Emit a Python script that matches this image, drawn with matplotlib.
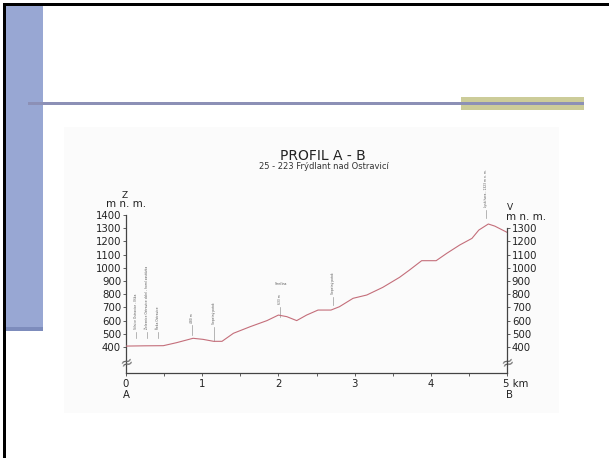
import matplotlib.pyplot as plt
from matplotlib.patches import Rectangle

plt.rcParams['font.family'] = ['DejaVu Sans']

# elevation profile (km, m n. m.)
dist_km = [0, 0.25, 0.49, 0.665, 0.88, 1.01, 1.15, 1.26, 1.41, 1.63, 1.85, 2.0, 2.11,
           2.24, 2.37, 2.52, 2.69, 2.80, 2.98, 3.16, 3.37, 3.59, 3.72, 3.88, 4.07,
           4.21, 4.38, 4.54, 4.63, 4.755, 4.84, 5.0]
elev = [407, 409, 410, 433, 466, 458, 443, 443, 504, 554, 600, 642, 630,
        600, 642, 680, 680, 705, 769, 794, 852, 928, 983, 1054, 1054,
        1110, 1173, 1223, 1286, 1332, 1316, 1269]

# point labels along the route: position, marker low/high elevation
mark_km = [0.13, 0.28, 0.42, 0.87, 1.16, 2.02, 2.72, 4.73]
mark_lo = [468, 468, 468, 490, 445, 627, 718, 1377]
mark_hi = [514, 514, 514, 565, 552, 703, 779, 1438]
mark_txt = ['Silnice Ostravice - Ilška',
            'Železnice Ostravice dolní - horní zastávka',
            'Řeka Ostravice', '480 m', 'Sepetný potok', '633 m',
            'Sepetný potok', 'Lysá hora - 1323 m n. m.']

left_ticks = [400, 500, 600, 700, 800, 900, 1000, 1100, 1200, 1300, 1400]
right_ticks = [400, 500, 600, 700, 800, 900, 1000, 1100, 1200, 1300]
x_ticks = [0, 1, 2, 3, 4, 5]

W, H = 609, 458
fig = plt.figure(figsize=(W / 100, H / 100), dpi=100)


def box(x0, y0, x1, y1, color, z=0):
    fig.add_artist(Rectangle((x0 / W, 1 - y1 / H), (x1 - x0) / W, (y1 - y0) / H,
                             transform=fig.transFigure, facecolor=color,
                             edgecolor='none', zorder=z))


# slide decoration
box(0, 0, W, 3, 'white')
box(3, 3, W, 6, 'black', 5)
box(3, 3, 6, H, 'black', 5)
box(6, 6, 43, 329, '#98a7d3', 1)
box(6, 327, 43, 331, '#7d8cbc', 1)
box(461, 97, 584, 110, '#cccc99', 1)
box(28, 102, 584, 105, '#8c90b6', 2)
box(64, 127, 559, 413, '#fbfbfb', 0)

ax = fig.add_axes([126 / W, (H - 373) / H, (507 - 126) / W, (373 - 205) / H])
ax.patch.set_alpha(0)
ax.plot(dist_km, elev, color='#c46e7a', lw=0.8, zorder=3)
ax.set_xlim(0, 5)
ax.set_ylim(203, 1476)

spine_col = '#444444'
txt_col = '#222222'
for s in ['top', 'right']:
    ax.spines[s].set_visible(False)
ax.spines['left'].set_bounds(203, 1400)
for s in ['left', 'bottom']:
    ax.spines[s].set_color(spine_col)
    ax.spines[s].set_linewidth(0.9)

ax.set_yticks(left_ticks)
ax.set_yticklabels([str(v) for v in left_ticks])
ax.tick_params(axis='y', direction='out', length=2.5, width=0.6, colors=spine_col,
               labelsize=7.3, labelcolor=txt_col, pad=1)
ax.set_xticks(x_ticks)
ax.set_xticklabels(['0', '1', '2', '3', '4', ''])
ax.set_xticks([0.5, 1.5, 2.5, 3.5, 4.5], minor=True)
ax.tick_params(axis='x', which='both', direction='out', length=2, width=0.6,
               colors=spine_col, labelsize=7.3, labelcolor=txt_col, pad=2)

ax2 = ax.twinx()
ax2.set_ylim(ax.get_ylim())
for s in ['top', 'left', 'bottom']:
    ax2.spines[s].set_visible(False)
ax2.spines['right'].set_bounds(203, 1300)
ax2.spines['right'].set_color(spine_col)
ax2.spines['right'].set_linewidth(0.9)
ax2.set_yticks(right_ticks)
ax2.set_yticklabels([str(v) for v in right_ticks])
ax2.tick_params(axis='y', direction='out', length=2.5, width=0.6, colors=spine_col,
                labelsize=7.3, labelcolor=txt_col, pad=1)

# axis break marks
for xb in [0, 5]:
    ax.text(xb, 286, '≈', fontsize=11, color='#666666', ha='center', va='center',
            rotation=20, zorder=4)

# labels under x axis
ax.annotate('5 km', xy=(5, 0), xycoords=('data', 'axes fraction'), xytext=(-2.6, -4),
            textcoords='offset points', ha='left', va='top', fontsize=7.3, color=txt_col)
ax.annotate('A', xy=(0, 0), xycoords=('data', 'axes fraction'), xytext=(0, -12.5),
            textcoords='offset points', ha='center', va='top', fontsize=7.3, color=txt_col)
ax.annotate('B', xy=(5, 0), xycoords=('data', 'axes fraction'), xytext=(2, -12.5),
            textcoords='offset points', ha='center', va='top', fontsize=7.3, color=txt_col)

# route markers
for xk, lo, hi, t in zip(mark_km, mark_lo, mark_hi, mark_txt):
    ax.plot([xk, xk], [lo, hi], color='#999999', lw=0.5, zorder=2)
    ax.text(xk, hi + 20, t, rotation=90, fontsize=2.2, color='#555555',
            ha='center', va='bottom', clip_on=False)
ax.text(2.03, 860, 'Smrčina', fontsize=2.2, color='#555555', ha='center', va='bottom')

# titles and axis captions
fig.text(323 / W, 1 - 156 / H, 'PROFIL A - B', ha='center', va='center',
         fontsize=10, color=txt_col)
fig.text(324 / W, 1 - 166 / H, '25 - 223 Frýdlant nad Ostravicí', ha='center',
         va='center', fontsize=6, color='#333333')
fig.text(125 / W, 1 - 195 / H, 'Z', ha='center', va='center', fontsize=6.5, color=txt_col)
fig.text(126 / W, 1 - 204 / H, 'm n. m.', ha='center', va='center', fontsize=7.5,
         color=txt_col)
fig.text(510 / W, 1 - 208 / H, 'V', ha='center', va='center', fontsize=6.5, color=txt_col)
fig.text(526 / W, 1 - 217 / H, 'm n. m.', ha='center', va='center', fontsize=7.5,
         color=txt_col)

fig.savefig('out.png', dpi=100)
